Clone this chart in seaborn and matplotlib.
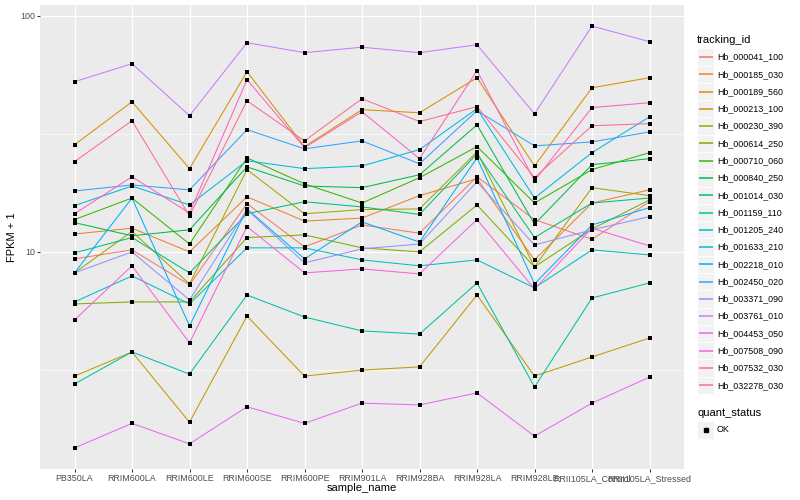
import numpy as np
import pandas as pd
import matplotlib
matplotlib.use('Agg')
import matplotlib.pyplot as plt
import seaborn as sns
from matplotlib.patches import Rectangle
from matplotlib.lines import Line2D
from matplotlib.ticker import FixedLocator, NullFormatter

# sample order on the x axis
samples = ['PB350LA', 'RRIM600LA', 'RRIM600LE', 'RRIM600SE', 'RRIM600PE', 'RRIM901LA',
           'RRIM928BA', 'RRIM928LA', 'RRIM928LE', 'RRII105LA_Control', 'RRII105LA_Stressed']

# FPKM per gene (plotted as FPKM + 1)
hb_000041_100 = [8.34, 9.20, 6.25, 15.0, 9.50, 12.0, 11.0, 19.8, 12.7, 10.3, 15.3]
hb_000185_030 = [10.9, 11.6, 9.00, 16.1, 12.5, 12.9, 16.3, 19.4, 8.25, 15.1, 17.3]
hb_000189_560 = [27.4, 42.2, 21.5, 56.9, 26.9, 39.0, 37.8, 53.6, 22.1, 48.5, 53.6]
hb_000213_100 = [1.98, 2.77, 0.90, 4.35, 1.98, 2.16, 2.26, 5.57, 1.98, 2.59, 3.32]
hb_000230_390 = [7.15, 11.2, 6.32, 21.3, 13.5, 14.1, 14.2, 25.5, 7.64, 17.7, 16.3]
hb_000614_250 = [5.02, 5.14, 5.14, 10.5, 10.8, 9.40, 9.00, 14.8, 7.64, 11.5, 15.6]
hb_000710_060 = [12.7, 15.9, 9.80, 24.0, 18.4, 15.1, 19.6, 26.9, 15.1, 21.3, 25.3]
hb_000840_250 = [12.3, 10.7, 11.4, 21.9, 18.0, 17.7, 20.2, 33.5, 12.1, 22.4, 23.8]
hb_001014_030 = [8.90, 10.5, 7.15, 13.5, 15.3, 14.5, 13.4, 25.0, 10.5, 15.1, 15.9]
hb_001159_110 = [1.76, 2.77, 2.04, 5.57, 4.30, 3.63, 3.49, 6.39, 1.68, 5.38, 6.39]
hb_001205_240 = [5.14, 6.91, 5.02, 9.40, 9.40, 8.25, 7.73, 8.25, 6.04, 9.20, 8.71]
hb_001633_210 = [14.7, 18.0, 14.8, 23.3, 21.5, 22.1, 26.1, 39.4, 15.9, 25.3, 36.3]
hb_002218_010 = [7.15, 15.9, 3.86, 14.2, 8.34, 12.4, 10.0, 24.0, 6.32, 12.0, 14.4]
hb_002450_020 = [17.1, 18.2, 17.3, 31.9, 26.3, 28.5, 22.6, 38.6, 27.1, 28.2, 31.2]
hb_003371_090 = [7.15, 9.00, 5.26, 14.1, 7.98, 9.30, 9.80, 18.8, 9.70, 11.4, 13.1]
hb_003761_010 = [51.5, 61.6, 36.7, 75.8, 68.7, 72.5, 68.7, 74.3, 37.4, 89.3, 76.6]
hb_004453_050 = [0.48, 0.88, 0.54, 1.21, 0.88, 1.29, 1.25, 1.53, 0.66, 1.29, 1.95]
hb_007508_090 = [4.15, 7.73, 3.12, 11.8, 7.15, 7.47, 7.07, 12.7, 5.97, 11.6, 9.60]
hb_007532_030 = [13.5, 19.8, 13.6, 52.6, 26.6, 38.2, 23.8, 57.5, 19.0, 39.8, 41.8]
hb_032278_030 = [23.1, 34.9, 13.2, 42.6, 28.5, 43.5, 34.6, 40.2, 19.6, 33.2, 33.9]

tracking_ids = ['Hb_000041_100', 'Hb_000185_030', 'Hb_000189_560', 'Hb_000213_100',
                'Hb_000230_390', 'Hb_000614_250', 'Hb_000710_060', 'Hb_000840_250',
                'Hb_001014_030', 'Hb_001159_110', 'Hb_001205_240', 'Hb_001633_210',
                'Hb_002218_010', 'Hb_002450_020', 'Hb_003371_090', 'Hb_003761_010',
                'Hb_004453_050', 'Hb_007508_090', 'Hb_007532_030', 'Hb_032278_030']
series = [hb_000041_100, hb_000185_030, hb_000189_560, hb_000213_100, hb_000230_390,
          hb_000614_250, hb_000710_060, hb_000840_250, hb_001014_030, hb_001159_110,
          hb_001205_240, hb_001633_210, hb_002218_010, hb_002450_020, hb_003371_090,
          hb_003761_010, hb_004453_050, hb_007508_090, hb_007532_030, hb_032278_030]

# ggplot default hue palette for 20 levels
colors = ['#F8766D', '#EA8331', '#D89000', '#C09B00', '#A3A500', '#7CAE00', '#39B600',
          '#00BB4E', '#00BF7D', '#00C1A3', '#00BFC4', '#00BAE0', '#00B0F6', '#35A2FF',
          '#9590FF', '#C77CFF', '#E76BF3', '#FA62DB', '#FF62BC', '#FF6C90']

# long table for seaborn
rows = []
for tid, vals in zip(tracking_ids, series):
    for s, v in zip(samples, vals):
        rows.append({'tracking_id': tid, 'sample_name': s, 'FPKM': v, 'quant_status': 'OK'})
df = pd.DataFrame(rows)
df['FPKM + 1'] = df['FPKM'] + 1

plt.rcParams['font.family'] = ['Liberation Sans', 'DejaVu Sans']

W, H = 800, 500
fig = plt.figure(figsize=(8, 5), dpi=100)
fig.patch.set_facecolor('white')
# panel placed in pixels: left 40, right 684, top 5, bottom 469
ax = fig.add_axes([40 / W, 1 - 469 / H, 644 / W, 464 / H])
ax.set_facecolor('#EBEBEB')

sns.lineplot(data=df, x='sample_name', y='FPKM + 1', hue='tracking_id',
             palette=dict(zip(tracking_ids, colors)), estimator=None, sort=False,
             linewidth=0.75, legend=False, ax=ax, zorder=3)
sns.scatterplot(data=df, x='sample_name', y='FPKM + 1', color='black', marker='s',
                s=6, linewidth=0, legend=False, ax=ax, zorder=4)

ax.set_yscale('log')
lo, hi = np.log10(df['FPKM + 1'].min()), np.log10(df['FPKM + 1'].max())
pad = (hi - lo) * 0.05
ax.set_ylim(10 ** (lo - pad), 10 ** (hi + pad))
ax.set_xlim(-0.6, len(samples) - 0.4)

ax.yaxis.set_major_locator(FixedLocator([10, 100]))
ax.set_yticklabels(['10', '100'])
ax.yaxis.set_minor_locator(FixedLocator([10 ** 0.5, 10 ** 1.5]))
ax.yaxis.set_minor_formatter(NullFormatter())

ax.grid(which='major', color='white', linewidth=0.9, zorder=0)
ax.grid(which='minor', axis='y', color='white', linewidth=0.45, zorder=0)
ax.set_axisbelow(True)
for sp in ax.spines.values():
    sp.set_visible(False)

ax.tick_params(axis='both', which='major', length=2.0, width=0.75, color='#333333',
               labelsize=6.4, labelcolor='#4D4D4D', pad=1.6)
ax.tick_params(axis='y', which='minor', length=0)
ax.set_xlabel('')
ax.set_ylabel('')

fig.text(362 / W, 1 - 488 / H, 'sample_name', fontsize=8, ha='center', va='center')
fig.text(12 / W, 1 - 237 / H, 'FPKM + 1', fontsize=8, ha='center', va='center', rotation=90)

# legend: tracking_id
fig.text(697 / W, 1 - 40 / H, 'tracking_id', fontsize=8, ha='left', va='center')
key = 17.28
for i, (tid, col) in enumerate(zip(tracking_ids, colors)):
    yc = 57 + i * key
    fig.patches.append(Rectangle((697 / W, 1 - (yc + key / 2) / H), key / W, key / H,
                                 transform=fig.transFigure, facecolor='#F2F2F2',
                                 edgecolor='white', linewidth=0.6, zorder=1))
    fig.lines.append(Line2D([699 / W, 712.5 / W], [1 - yc / H, 1 - yc / H],
                            transform=fig.transFigure, color=col, linewidth=1.1,
                            solid_capstyle='butt', zorder=5))
    fig.text(717 / W, 1 - yc / H, tid, fontsize=6.4, ha='left', va='center')

# legend: quant_status
fig.text(697 / W, 1 - 413 / H, 'quant_status', fontsize=8, ha='left', va='center')
yc = 430
fig.patches.append(Rectangle((697 / W, 1 - (yc + key / 2) / H), key / W, key / H,
                             transform=fig.transFigure, facecolor='#F2F2F2',
                             edgecolor='white', linewidth=0.6, zorder=1))
fig.lines.append(Line2D([705.6 / W], [1 - yc / H], transform=fig.transFigure,
                        color='black', marker='s', markersize=2.4, linestyle='none',
                        zorder=5))
fig.text(717 / W, 1 - yc / H, 'OK', fontsize=6.4, ha='left', va='center')

fig.savefig('out.png', dpi=100)
